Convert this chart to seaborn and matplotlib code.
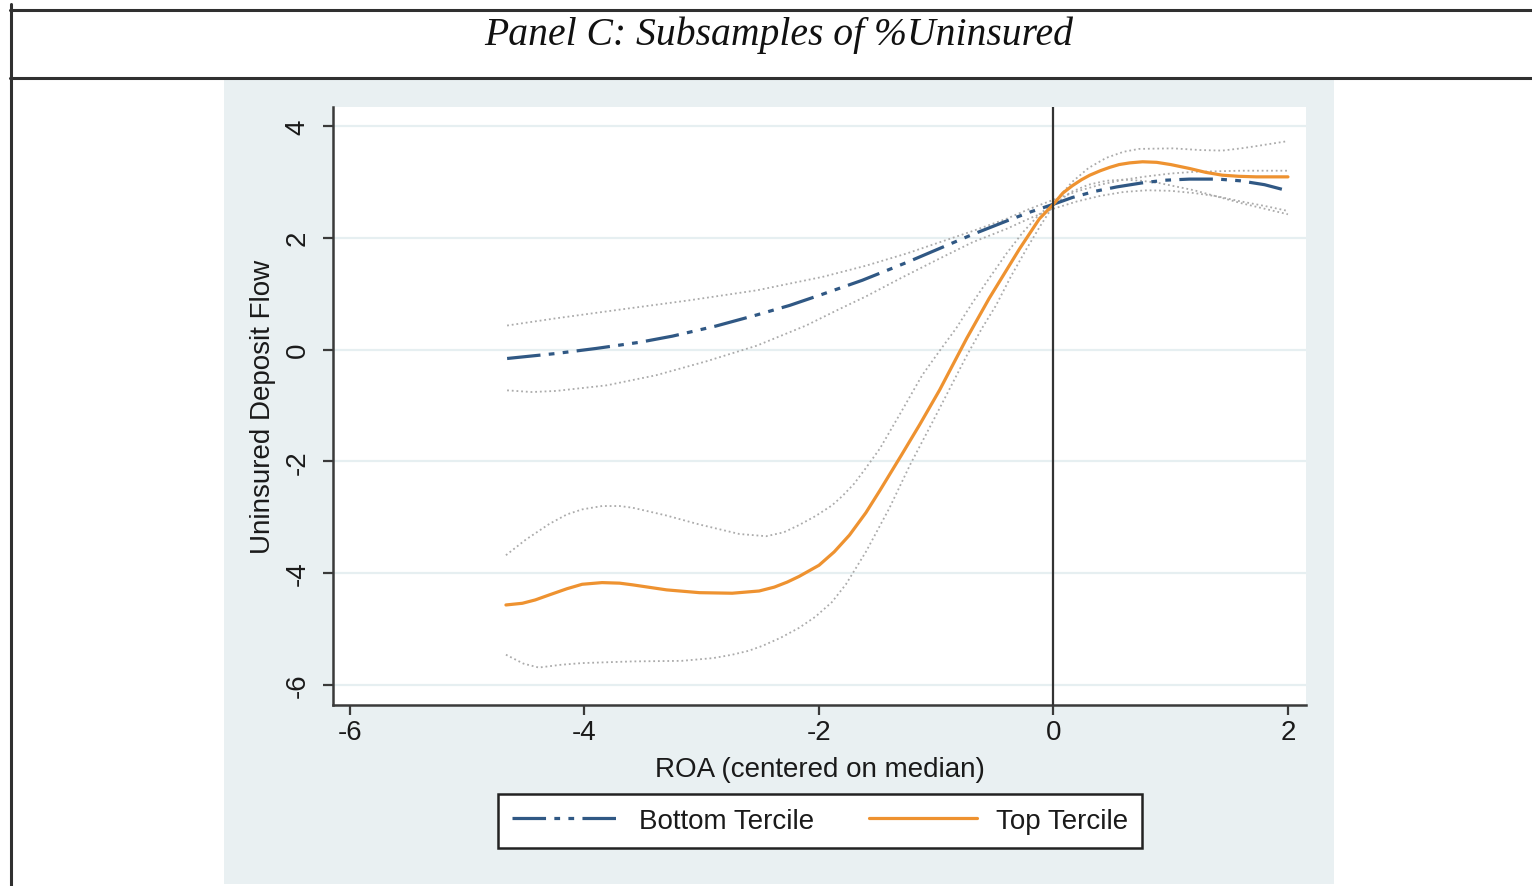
import numpy as np
import pandas as pd
import seaborn as sns
import matplotlib
matplotlib.use("Agg")
import matplotlib.pyplot as plt
from matplotlib.patches import Rectangle
from matplotlib.lines import Line2D

# ---- Data: local fits of uninsured deposit flow on ROA, by %Uninsured tercile ----
bottom_x = [-4.66, -4.24, -3.90, -3.53, -3.25, -2.88, -2.53, -2.25, -1.97, -1.63,
            -1.25, -0.97, -0.69, -0.40, -0.20, 0.0, 0.16, 0.35, 0.54, 0.75,
            0.95, 1.16, 1.40, 1.59, 1.80, 2.0]
bottom_y = [-0.16, -0.07, 0.02, 0.13, 0.24, 0.42, 0.62, 0.79, 0.99, 1.24,
            1.56, 1.81, 2.06, 2.30, 2.46, 2.60, 2.72, 2.83, 2.91, 2.98,
            3.03, 3.05, 3.05, 3.02, 2.95, 2.84]

bottom_hi_x = [-4.66, -4.24, -3.68, -3.11, -2.53, -1.97, -1.60, -1.25, -0.97, -0.69,
               -0.40, -0.20, 0.0, 0.2, 0.4, 0.6, 0.8, 1.0, 1.2, 1.6, 2.0]
bottom_hi_y = [0.43, 0.56, 0.72, 0.88, 1.06, 1.30, 1.50, 1.72, 1.92, 2.12,
               2.34, 2.52, 2.68, 2.83, 2.95, 3.04, 3.10, 3.15, 3.18, 3.20, 3.20]

bottom_lo_x = [-4.66, -4.45, -4.24, -3.81, -3.39, -2.96, -2.53, -2.11, -1.83, -1.60,
               -1.30, -0.97, -0.69, -0.40, -0.20, 0.0, 0.2, 0.4, 0.6, 0.8,
               1.0, 1.2, 1.4, 1.6, 1.8, 2.0]
bottom_lo_y = [-0.73, -0.76, -0.74, -0.64, -0.46, -0.21, 0.07, 0.43, 0.72, 0.95,
               1.28, 1.63, 1.92, 2.16, 2.35, 2.52, 2.65, 2.75, 2.82, 2.85,
               2.84, 2.80, 2.74, 2.65, 2.57, 2.48]

top_x = [-4.67, -4.53, -4.42, -4.30, -4.15, -4.02, -3.85, -3.70, -3.59, -3.30,
         -3.02, -2.74, -2.51, -2.38, -2.27, -2.17, -2.0, -1.87, -1.74, -1.60,
         -1.48, -1.30, -1.14, -0.97, -0.74, -0.55, -0.29, -0.12, 0.0, 0.08,
         0.16, 0.24, 0.31, 0.40, 0.48, 0.56, 0.65, 0.76, 0.88, 1.0,
         1.16, 1.30, 1.44, 1.58, 1.73, 2.0]
top_y = [-4.57, -4.54, -4.48, -4.39, -4.28, -4.20, -4.17, -4.18, -4.21, -4.30,
         -4.35, -4.36, -4.32, -4.25, -4.16, -4.06, -3.86, -3.62, -3.32, -2.92,
         -2.52, -1.90, -1.34, -0.72, 0.20, 0.91, 1.80, 2.34, 2.60, 2.80,
         2.93, 3.04, 3.12, 3.20, 3.26, 3.31, 3.34, 3.36, 3.35, 3.31,
         3.24, 3.17, 3.12, 3.10, 3.09, 3.09]

top_hi_x = [-4.67, -4.50, -4.30, -4.15, -4.02, -3.85, -3.70, -3.59, -3.30, -3.02,
            -2.68, -2.45, -2.30, -2.17, -2.03, -1.89, -1.80, -1.70, -1.60, -1.48,
            -1.30, -1.12, -0.97, -0.83, -0.69, -0.55, -0.40, -0.26, -0.12, 0.0,
            0.16, 0.30, 0.45, 0.60, 0.73, 1.02, 1.25, 1.44, 1.60, 1.73, 2.0]
top_hi_y = [-3.68, -3.40, -3.12, -2.95, -2.86, -2.80, -2.80, -2.83, -2.97, -3.13,
            -3.30, -3.34, -3.27, -3.14, -2.98, -2.79, -2.62, -2.40, -2.12, -1.77,
            -1.12, -0.46, -0.02, 0.38, 0.84, 1.27, 1.72, 2.10, 2.42, 2.62,
            3.00, 3.25, 3.43, 3.54, 3.59, 3.60, 3.57, 3.56, 3.60, 3.64, 3.73]

top_lo_x = [-4.67, -4.52, -4.39, -4.20, -4.02, -3.59, -3.17, -2.90, -2.74, -2.60,
            -2.48, -2.33, -2.17, -2.03, -1.89, -1.77, -1.60, -1.40, -1.22, -1.03,
            -0.88, -0.74, -0.61, -0.49, -0.36, -0.23, -0.11, 0.0, 0.15, 0.3,
            0.45, 0.6, 0.75, 0.9, 1.2, 1.6, 2.0]
top_lo_y = [-5.46, -5.62, -5.69, -5.64, -5.61, -5.58, -5.57, -5.52, -5.46, -5.39,
            -5.30, -5.16, -4.98, -4.78, -4.52, -4.20, -3.62, -2.84, -2.05, -1.29,
            -0.68, -0.11, 0.38, 0.79, 1.32, 1.80, 2.22, 2.58, 2.82, 2.95,
            3.02, 3.04, 3.02, 2.98, 2.85, 2.62, 2.42]

x_ticks = [-6, -4, -2, 0, 2]
y_ticks = [-6, -4, -2, 0, 2, 4]
series_labels = ["Bottom Tercile", "Top Tercile"]
title_text = "Panel C: Subsamples of %Uninsured"
x_label = "ROA (centered on median)"
y_label = "Uninsured Deposit Flow"

# ---- Styling ----
sns.set_theme(style="white")
plt.rcParams["font.family"] = ["Liberation Sans", "DejaVu Sans"]

W, H = 1532, 887
fig = plt.figure(figsize=(W / 100, H / 100), dpi=100)
fig.patch.set_facecolor("white")

def fx(px):
    return px / W

def fy(py):
    return 1 - py / H

navy = "#305884"
orange = "#ee9230"
ci_gray = "#ababab"
panel_bg = "#e9f0f2"
grid_col = "#e6eff1"
txt = "#1a1a1a"
fs = 20

# Graph region background (behind the axes)
fig.patches.append(Rectangle((fx(224), fy(885)), fx(1334) - fx(224), fy(81) - fy(885),
                             transform=fig.transFigure, facecolor=panel_bg,
                             edgecolor="none", zorder=-5))
# Table frame lines
for xs, ys in [([fx(10), 1], [fy(11), fy(11)]),
               ([fx(10), 1], [fy(79), fy(79)]),
               ([fx(11), fx(11)], [fy(5), 0])]:
    fig.add_artist(Line2D(xs, ys, transform=fig.transFigure, color="#303030",
                          lw=2.2, zorder=-4))

fig.text(fx(779), fy(35), title_text, ha="center", va="center",
         fontsize=28.5, style="italic", family=["Liberation Serif", "DejaVu Serif"],
         color="#111111")

ax = fig.add_axes([fx(333), fy(706), fx(1306) - fx(333), fy(108) - fy(706)])
ax.set_zorder(1)
ax.set_facecolor("white")

ci_style = dict(color=ci_gray, lw=1.3, linestyle=(0, (1, 1.6)))
for xs, ys in [(bottom_hi_x, bottom_hi_y), (bottom_lo_x, bottom_lo_y),
               (top_hi_x, top_hi_y), (top_lo_x, top_lo_y)]:
    sns.lineplot(x=xs, y=ys, ax=ax, estimator=None, sort=False, zorder=2, **ci_style)

dashdot = (0, (10.5, 2.6, 1.8, 2.6, 1.8, 2.6))
sns.lineplot(x=bottom_x, y=bottom_y, ax=ax, estimator=None, sort=False,
             color=navy, lw=2.3, linestyle=dashdot, zorder=3,
             dash_joinstyle="round")
sns.lineplot(x=top_x, y=top_y, ax=ax, estimator=None, sort=False,
             color=orange, lw=2.3, zorder=3, solid_joinstyle="round")

ax.axvline(0, color="#333333", lw=1.6, zorder=4)

ax.set_xlim(-6.145, 2.154)
ax.set_ylim(-6.36, 4.34)
ax.set_xticks(x_ticks)
ax.set_yticks(y_ticks)
ax.set_xticklabels([str(v) for v in x_ticks])
ax.set_yticklabels([str(v) for v in y_ticks])
ax.grid(axis="y", color=grid_col, lw=1.6)
ax.grid(axis="x", visible=False)
ax.set_axisbelow(True)

for side in ["top", "right"]:
    ax.spines[side].set_visible(False)
for side in ["left", "bottom"]:
    ax.spines[side].set_color("#3a3a3a")
    ax.spines[side].set_linewidth(1.8)

ax.tick_params(axis="both", direction="out", length=7, width=1.6, color="#3a3a3a",
               labelsize=fs, labelcolor=txt, left=True, bottom=True)
ax.tick_params(axis="x", pad=3)
ax.tick_params(axis="y", pad=9)
for lab in ax.get_yticklabels():
    lab.set_rotation(90)
    lab.set_va("center")
    lab.set_ha("right")

ax.set_xlabel(x_label, fontsize=fs, color=txt, labelpad=8)
ax.set_ylabel(y_label, fontsize=fs, color=txt, labelpad=6)

handles = [Line2D([], [], color=navy, lw=2.3, linestyle=dashdot),
           Line2D([], [], color=orange, lw=2.3)]
leg = fig.legend(handles, series_labels, loc="center",
                 bbox_to_anchor=(fx(820), fy(822)), ncol=2, fontsize=fs,
                 frameon=True, fancybox=False, handlelength=3.9,
                 columnspacing=1.95, handletextpad=0.7, borderpad=0.5,
                 borderaxespad=0)
frame = leg.get_frame()
frame.set_edgecolor("#222222")
frame.set_linewidth(1.8)
frame.set_facecolor("white")
frame.set_alpha(1)
for t in leg.get_texts():
    t.set_color(txt)

fig.savefig("out.png", dpi=100)
